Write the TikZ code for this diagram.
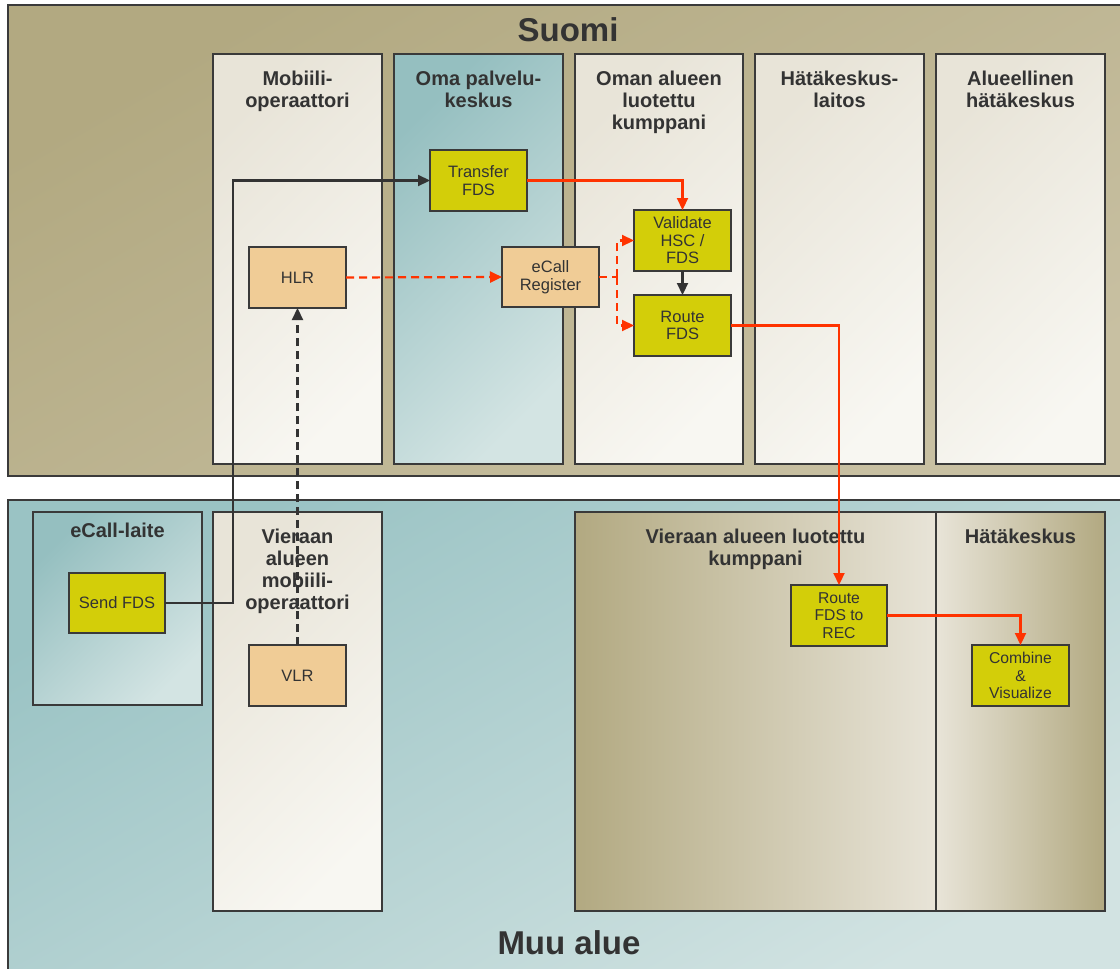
\documentclass[tikz,border=0pt]{standalone}
\usepackage{fontspec}
\setmainfont{Liberation Sans}
\usetikzlibrary{arrows.meta,calc}

\definecolor{ink}{HTML}{333333}
\definecolor{edge}{HTML}{3A3A3A}
\definecolor{olive}{HTML}{D3CE09}
\definecolor{peach}{HTML}{F0CC96}
\definecolor{flowred}{HTML}{FF3300}
\definecolor{tanA}{HTML}{B2A981}
\definecolor{tanB}{HTML}{C8C0A2}
\definecolor{paleA}{HTML}{E8E4D8}
\definecolor{paleB}{HTML}{F8F7F2}
\definecolor{tealA}{HTML}{95BFC0}
\definecolor{tealB}{HTML}{D3E4E3}
\definecolor{seaA}{HTML}{9AC3C4}
\definecolor{seaB}{HTML}{D2E3E2}

\tikzset{
  regionbox/.style={rectangle, anchor=north west, inner sep=0pt, outer sep=0pt,
    draw=edge, line width=1.3pt},
  lanebox/.style={rectangle, anchor=north west, inner sep=0pt, outer sep=0pt,
    draw=edge, line width=1.5pt},
  paleshade/.style={top color=paleA, bottom color=paleB, shading angle=45},
  tealshade/.style={top color=tealA, bottom color=tealB, shading angle=45},
  lanetitle/.style={anchor=north, inner sep=0pt, align=center, text=ink,
    font=\fontsize{20}{22}\selectfont\bfseries},
  bigtitle/.style={inner sep=0pt, text=ink, font=\fontsize{33}{36}\selectfont\bfseries},
  procbox/.style={rectangle, anchor=north west, inner sep=0pt, outer sep=0pt,
    draw=edge, line width=1.3pt, fill=olive, text=ink, align=center,
    font=\fontsize{16.5}{17.5}\selectfont},
  smallproc/.style={procbox, font=\fontsize{15.7}{17.4}\selectfont},
  regbox/.style={procbox, fill=peach},
  flow/.style={draw=ink, line width=2.2pt, -{Triangle[length=12pt,width=11pt]}},
  redflow/.style={flow, draw=flowred},
  dashflow/.style={dash pattern=on 8pt off 5pt},
}

\begin{document}
\begin{tikzpicture}[x=1pt,y=-1pt]
\useasboundingbox (0,0) rectangle (1120,969);
\fill[white] (0,0) rectangle (1120,969);

% ---- regions ----
\node[regionbox, top color=tanA, bottom color=tanB, shading angle=30,
  minimum width=1130pt, minimum height=471pt] (fi) at (8,5) {};
\node[regionbox, top color=seaA, bottom color=seaB, shading angle=30,
  minimum width=1130pt, minimum height=480pt] (muu) at (8,500) {};
\node[bigtitle] (fiTitle) at (568,30) {Suomi};
\node[bigtitle] (muuTitle) at (569,942.5) {Muu alue};

% ---- lanes, Suomi ----
\node[lanebox, paleshade, minimum width=169pt, minimum height=410pt] (mob) at (213,54) {};
\node[lanebox, tealshade, minimum width=169pt, minimum height=410pt] (oma) at (394,54) {};
\node[lanebox, paleshade, minimum width=168pt, minimum height=410pt] (oman) at (575,54) {};
\node[lanebox, paleshade, minimum width=169pt, minimum height=410pt] (hkl) at (755,54) {};
\node[lanebox, paleshade, minimum width=169pt, minimum height=410pt] (alu) at (936,54) {};

\node[lanetitle] (mobT) at ($(mob.north)+(0,16.4)$) {Mobiili-\\operaattori};
\node[lanetitle] (omaT) at ($(oma.north)+(0,16.4)$) {Oma palvelu-\\keskus};
\node[lanetitle] (omanT) at ($(oman.north)+(0,16.4)$) {Oman alueen\\luotettu\\kumppani};
\node[lanetitle] (hklT) at ($(hkl.north)+(0,16.4)$) {Hätäkeskus-\\laitos};
\node[lanetitle] (aluT) at ($(alu.north)+(0,16.4)$) {Alueellinen\\hätäkeskus};

% ---- lanes, Muu alue ----
\node[lanebox, tealshade, minimum width=169pt, minimum height=193pt] (ecl) at (33,512) {};
\node[lanebox, paleshade, minimum width=169pt, minimum height=399pt] (vmob) at (213,512) {};
\node[lanebox, left color=tanA, right color=paleA,
  minimum width=361pt, minimum height=399pt] (vluo) at (575,512) {};
\node[lanebox, left color=paleA, middle color=paleA!96!tanA, right color=tanA,
  minimum width=169pt, minimum height=399pt] (hk) at (936,512) {};

\node[lanetitle] (eclT) at ($(ecl.north)+(0,10.5)$) {eCall-laite};
\node[lanetitle] (vmobT) at ($(vmob.north)+(0,16.4)$) {Vieraan\\alueen\\mobiili-\\operaattori};
\node[lanetitle] (vluoT) at ($(vluo.north)+(0,16.4)$) {Vieraan alueen luotettu\\kumppani};
\node[lanetitle] (hkT) at ($(hk.north)+(0,16.4)$) {Hätäkeskus};

% ---- process boxes ----
\node[procbox, minimum width=97pt, minimum height=61pt] (transfer) at (430,150) {Transfer\\FDS};
\node[regbox, minimum width=97pt, minimum height=61pt] (hlr) at (249,247) {HLR};
\node[regbox, minimum width=97pt, minimum height=60pt] (ecr) at (502,247) {eCall\\Register};
\node[procbox, minimum width=97pt, minimum height=61pt] (val) at (634,210) {Validate\\HSC /\\FDS};
\node[procbox, minimum width=97pt, minimum height=61pt] (route) at (634,295) {Route\\FDS};
\node[procbox, minimum width=96pt, minimum height=60pt] (send) at (69,573) {Send FDS};
\node[regbox, minimum width=97pt, minimum height=61pt] (vlr) at (249,645) {VLR};
\node[smallproc, minimum width=96pt, minimum height=61pt] (rrec) at (791,585) {Route\\FDS to\\REC};
\node[smallproc, minimum width=97pt, minimum height=61pt] (comb) at (972,645) {Combine\\\&\\Visualize};

% ---- connectors ----
\coordinate (sendTurn) at ($(send.east)+(68,0)$);
\draw[flow] (send.east) -- (sendTurn) |- (transfer.west);
\draw[flow, dashflow] (vlr.north) -- (hlr.south);
\draw[redflow, dashflow] (hlr.east) -- (ecr.west);
\coordinate (split) at ($(ecr.east)+(18,0)$);
\draw[flowred, line width=2.2pt, dashflow] (ecr.east) -- (split);
\draw[redflow, dashflow] (split) |- (val.west);
\draw[redflow, dashflow] (split) |- (route.west);
\draw[redflow] (transfer.east) -| (val.north);
\draw[flow] (val.south) -- (route.north);
\draw[redflow] (route.east) -| (rrec.north);
\draw[redflow] (rrec.east) -| (comb.north);
\end{tikzpicture}
\end{document}
